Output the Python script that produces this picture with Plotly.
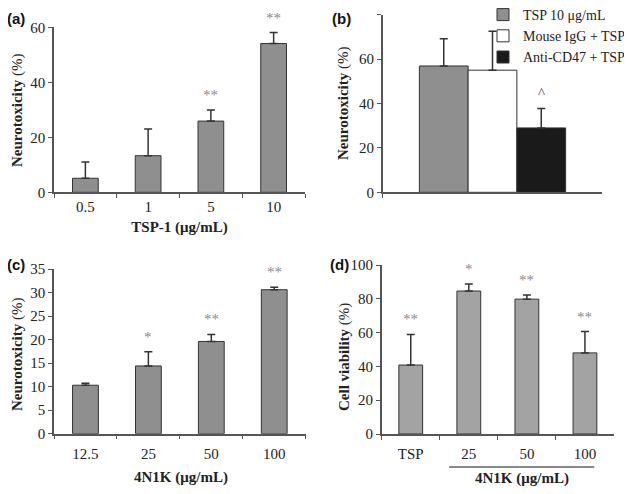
import plotly.graph_objects as go

# ---------------- data ----------------
a_cats = ["0.5", "1", "5", "10"]
a_vals = [5.1, 13.3, 25.9, 54.1]
a_err = [5.9, 9.7, 4.0, 4.0]
a_sig = ["", "", "**", "**"]

b_series = ["TSP 10 μg/mL", "Mouse IgG + TSP", "Anti-CD47 + TSP"]
b_vals = [56.9, 55.0, 29.0]
b_err = [12.3, 17.5, 8.8]
b_sig = ["", "", "^"]

c_cats = ["12.5", "25", "50", "100"]
c_vals = [10.3, 14.4, 19.6, 30.6]
c_err = [0.4, 3.0, 1.5, 0.5]
c_sig = ["", "*", "**", "**"]

d_cats = ["TSP", "25", "50", "100"]
d_vals = [40.8, 84.6, 79.8, 48.0]
d_err = [18.1, 4.2, 2.4, 12.6]
d_sig = ["**", "*", "**", "**"]

# page body has an 8px margin: figure is sized to fit the window exactly
OFF = 8
W, H = 632 - 2 * OFF, 494 - 2 * OFF

def px(x):
    return (x - OFF) / W

def py(y):
    return 1 - (y - OFF) / H

SERIF = "Liberation Serif"
SANS = "Liberation Sans"
BAR_A = "#8f8f8f"
BAR_D = "#a3a3a3"
EDGE = "#333333"
AXC = "#555555"
b_colors = ["#8f8f8f", "#ffffff", "#1a1a1a"]

fig = go.Figure()

def errd(err):
    return dict(type="data", array=err, arrayminus=[0] * len(err), symmetric=False,
                color="#333333", thickness=1.5, width=4)

def add_panel(cats, vals, err, color, xa, ya):
    fig.add_trace(go.Bar(x=cats, y=vals, error_y=errd(err), width=0.41,
                         marker=dict(color=color, line=dict(color=EDGE, width=1)),
                         xaxis=xa, yaxis=ya, showlegend=False))

add_panel(a_cats, a_vals, a_err, BAR_A, "x", "y")
add_panel(c_cats, c_vals, c_err, BAR_A, "x3", "y3")
add_panel(d_cats, d_vals, d_err, BAR_D, "x4", "y4")

bw = 0.222
for i, (name, v, e, col) in enumerate(zip(b_series, b_vals, b_err, b_colors)):
    fig.add_trace(go.Bar(x=[""], y=[v], error_y=errd([e]), name=name,
                         width=bw, offset=-1.5 * bw + i * bw,
                         marker=dict(color=col, line=dict(color=EDGE, width=1)),
                         xaxis="x2", yaxis="y2", showlegend=True))

# significance marks (x given as category index)
annotations = []
def add_sig(vals, err, sig, xr, yr, xs, color="#8a8a8a"):
    for k, (v, e, s) in enumerate(zip(vals, err, sig)):
        if s:
            annotations.append(dict(x=xs[k], y=v + e, xref=xr, yref=yr,
                                    text=s, showarrow=False, yanchor="bottom", yshift=5,
                                    font=dict(family=SERIF, size=15, color=color)))

add_sig(a_vals, a_err, a_sig, "x", "y", list(range(len(a_cats))))
add_sig(c_vals, c_err, c_sig, "x3", "y3", list(range(len(c_cats))))
add_sig(d_vals, d_err, d_sig, "x4", "y4", list(range(len(d_cats))))
b_pos = [-bw + i * bw for i in range(3)]
add_sig(b_vals, b_err, b_sig, "x2", "y2", b_pos, color="#444444")

# panel labels
for lab, x, y in [("(a)", 16, 8), ("(b)", 341, 8), ("(c)", 16, 254), ("(d)", 339, 254)]:
    annotations.append(dict(x=px(x), y=py(y), xref="paper", yref="paper",
                            text="<b>" + lab + "</b>", showarrow=False,
                            xanchor="center", yanchor="top",
                            font=dict(family=SANS, size=15, color="#111")))

# y-axis titles
ytitle_n = "<b>Neurotoxicity</b> (%)"
ytitle_v = "<b>Cell viability</b> (%)"
for t, x, y in [(ytitle_n, 17, 111), (ytitle_n, 344, 104), (ytitle_n, 17, 355), (ytitle_v, 344, 357)]:
    annotations.append(dict(x=px(x), y=py(y), xref="paper", yref="paper", text=t,
                            textangle=-90, showarrow=False, xanchor="center", yanchor="middle",
                            font=dict(family=SERIF, size=15, color="#222")))

# bottom x titles: (c) and (d) group title
for t, x, y in [("<b>4N1K (μg/mL)</b>", 181, 477), ("<b>4N1K (μg/mL)</b>", 521.8, 478)]:
    annotations.append(dict(x=px(x), y=py(y), xref="paper", yref="paper",
                            text=t, showarrow=False, xanchor="center", yanchor="middle",
                            font=dict(family=SERIF, size=15, color="#222")))

shapes = [dict(type="line", xref="x4", yref="paper", x0=0.66, x1=3.16,
               y0=py(467), y1=py(467), line=dict(color="#888888", width=2))]

tickfont = dict(family=SERIF, size=15, color="#222")
titlefont = dict(family=SERIF, size=15, color="#222")

def xax(domain, anchor, title=None, showlabels=True, lblgap=0, tstand=7):
    d = dict(domain=domain, anchor=anchor, showline=True, linecolor=AXC, linewidth=1.5,
             ticks="outside", ticklen=4, tickcolor=AXC, tickwidth=1.2,
             tickson="boundaries", showgrid=False, zeroline=False,
             tickfont=tickfont, showticklabels=showlabels, range=[-0.5, 3.5],
             ticklabelstandoff=lblgap)
    if title:
        d["title"] = dict(text=title, font=titlefont, standoff=tstand)
    return d

def yax(domain, anchor, rng, dtick):
    return dict(domain=domain, anchor=anchor, range=rng, dtick=dtick, showline=True,
                linecolor=AXC, linewidth=1.5, ticks="outside", ticklen=4, tickcolor=AXC,
                tickwidth=1.2, showgrid=False, zeroline=False, tickfont=tickfont)

xa = xax([px(54), px(305)], "y", "<b>TSP-1 (μg/mL)</b>")
xb = xax([px(382.7), px(602.3)], "y2", None, showlabels=False)
xb["range"] = [-0.5, 0.5]
xc = xax([px(54), px(305.7)], "y3", lblgap=6)
xd = xax([px(381.7), px(614)], "y4", lblgap=5)

fig.update_layout(
    width=W, height=H, margin=dict(l=0, r=0, t=0, b=0, autoexpand=False),
    paper_bgcolor="white", plot_bgcolor="white",
    barmode="group",
    xaxis=xa, xaxis2=xb, xaxis3=xc, xaxis4=xd,
    yaxis=yax([py(192.3), py(27.3)], "x", [0, 60], 20),
    yaxis2=yax([py(192.3), py(14.7)], "x2", [0, 80], 20),
    yaxis3=yax([py(433.7), py(269)], "x3", [0, 35], 5),
    yaxis4=yax([py(434), py(265)], "x4", [0, 100], 20),
    legend=dict(x=px(483), y=py(-1), xanchor="left", yanchor="top",
                font=dict(family=SERIF, size=14, color="#222"),
                bgcolor="rgba(0,0,0,0)", itemwidth=30, tracegroupgap=0),
    annotations=annotations, shapes=shapes,
    font=dict(family=SERIF, color="#222"),
)

fig.write_html("out.html")
